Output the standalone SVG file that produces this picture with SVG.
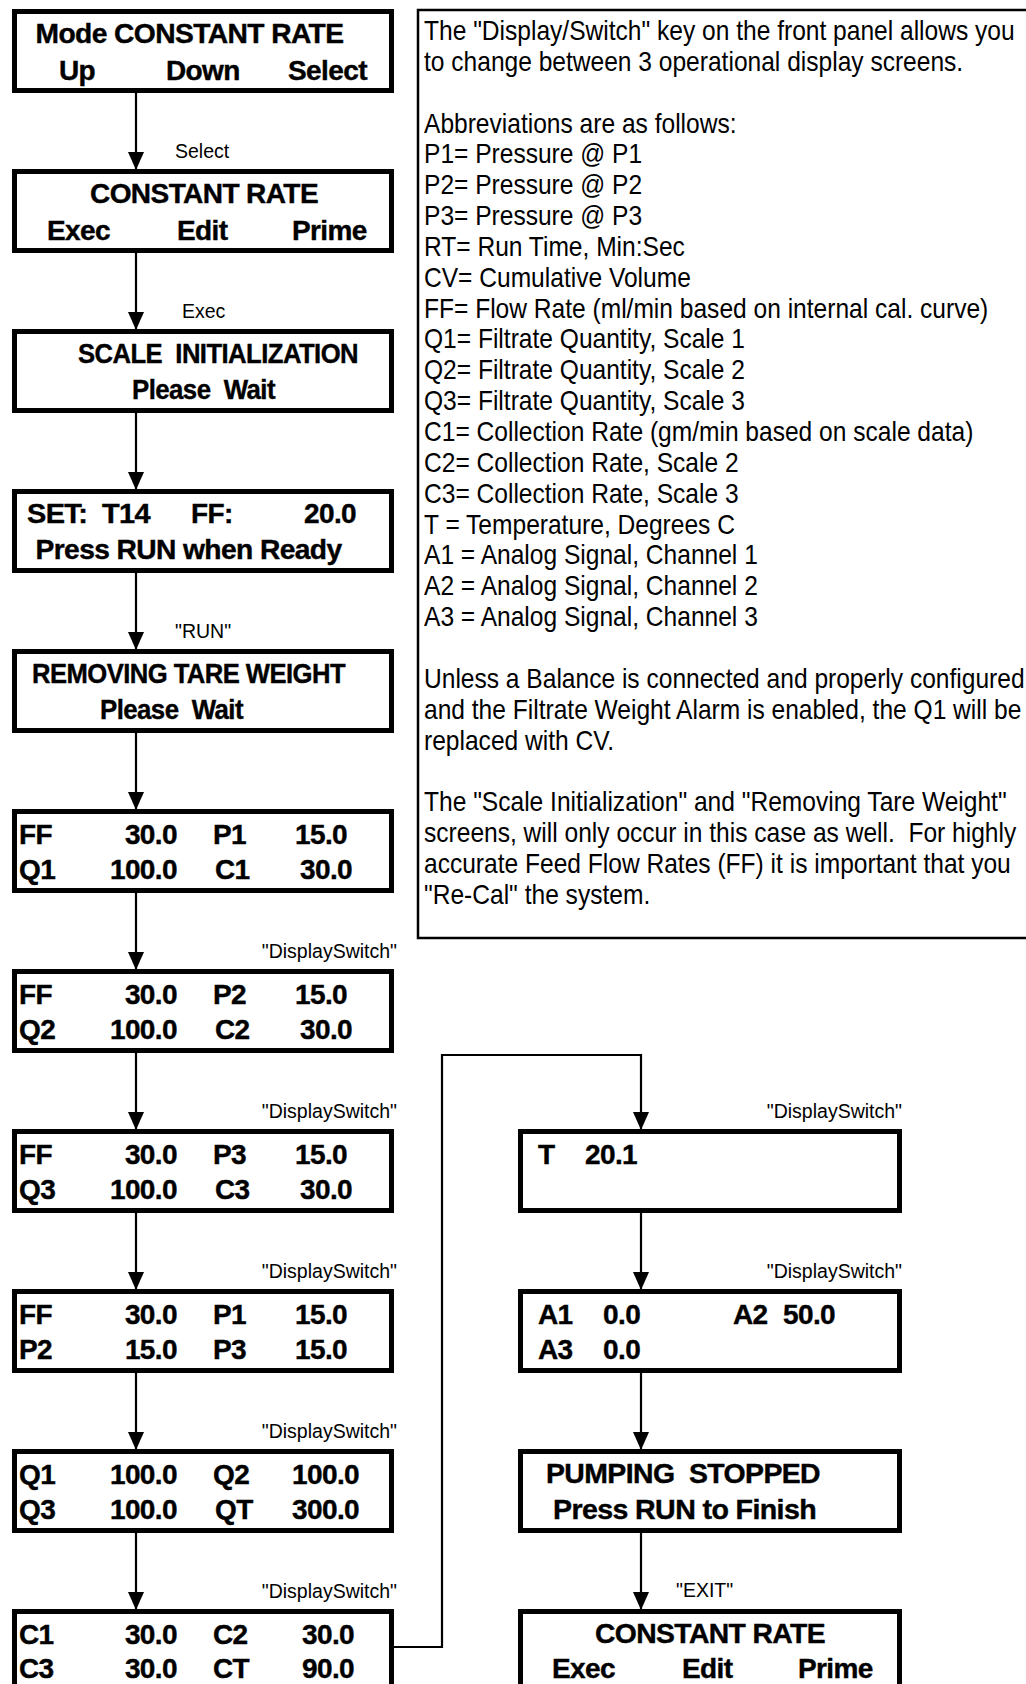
<svg xmlns="http://www.w3.org/2000/svg" width="1026" height="1684" viewBox="0 0 1026 1684" xml:space="preserve">
<defs>
<style>
text{white-space:pre}
.box{fill:#fff;stroke:#000;stroke-width:5}
.n{font-family:"Liberation Sans",Arial,sans-serif;font-weight:bold;font-size:28px;fill:#000;stroke:#000;stroke-width:0.4;letter-spacing:-0.6px}
.e{text-anchor:end}
.lbl{font-family:"Liberation Sans",Arial,sans-serif;font-size:19.5px;fill:#000}
.note{font-family:"Liberation Sans",Arial,sans-serif;font-size:27px;fill:#000}
.conn{fill:none;stroke:#000;stroke-width:2.2}
.panel{fill:none;stroke:#000;stroke-width:2.5}
</style>
<marker id="ah" viewBox="0 0 18 16" refX="18" refY="8" markerWidth="18" markerHeight="16" markerUnits="userSpaceOnUse" orient="auto"><path d="M0,0 L18,8 L0,16 z" fill="#000"/></marker>
</defs>
<rect width="1026" height="1684" fill="#fff"/>

<g id="notes">
<rect class="panel" x="418" y="10" width="640" height="928"/>
<g transform="translate(424 0) scale(0.91 1)">
<text class="note" x="0" y="40">The "Display/Switch" key on the front panel allows you</text>
<text class="note" x="0" y="70.9">to change between 3 operational display screens.</text>
<text class="note" x="0" y="132.6">Abbreviations are as follows:</text>
<text class="note" x="0" y="163.4">P1= Pressure @ P1</text>
<text class="note" x="0" y="194.3">P2= Pressure @ P2</text>
<text class="note" x="0" y="225.1">P3= Pressure @ P3</text>
<text class="note" x="0" y="256">RT= Run Time, Min:Sec</text>
<text class="note" x="0" y="286.8">CV= Cumulative Volume</text>
<text class="note" x="0" y="317.7">FF= Flow Rate (ml/min based on internal cal. curve)</text>
<text class="note" x="0" y="348.5">Q1= Filtrate Quantity, Scale 1</text>
<text class="note" x="0" y="379.4">Q2= Filtrate Quantity, Scale 2</text>
<text class="note" x="0" y="410.2">Q3= Filtrate Quantity, Scale 3</text>
<text class="note" x="0" y="441.1">C1= Collection Rate (gm/min based on scale data)</text>
<text class="note" x="0" y="471.9">C2= Collection Rate, Scale 2</text>
<text class="note" x="0" y="502.8">C3= Collection Rate, Scale 3</text>
<text class="note" x="0" y="533.6">T = Temperature, Degrees C</text>
<text class="note" x="0" y="564.5">A1 = Analog Signal, Channel 1</text>
<text class="note" x="0" y="595.3">A2 = Analog Signal, Channel 2</text>
<text class="note" x="0" y="626.2">A3 = Analog Signal, Channel 3</text>
<text class="note" x="0" y="687.9">Unless a Balance is connected and properly configured</text>
<text class="note" x="0" y="718.7">and the Filtrate Weight Alarm is enabled, the Q1 will be</text>
<text class="note" x="0" y="749.6">replaced with CV.</text>
<text class="note" x="0" y="811.3">The "Scale Initialization" and "Removing Tare Weight"</text>
<text class="note" x="0" y="842.1">screens, will only occur in this case as well.  For highly</text>
<text class="note" x="0" y="873">accurate Feed Flow Rates (FF) it is important that you</text>
<text class="note" x="0" y="903.8">"Re-Cal" the system.</text>
</g>
</g>

<g id="connectors">
<line class="conn" x1="136" y1="93" x2="136" y2="170" marker-end="url(#ah)"/>
<line class="conn" x1="136" y1="253" x2="136" y2="330" marker-end="url(#ah)"/>
<line class="conn" x1="136" y1="413" x2="136" y2="490" marker-end="url(#ah)"/>
<line class="conn" x1="136" y1="573" x2="136" y2="650" marker-end="url(#ah)"/>
<line class="conn" x1="136" y1="733" x2="136" y2="810" marker-end="url(#ah)"/>
<line class="conn" x1="136" y1="893" x2="136" y2="970" marker-end="url(#ah)"/>
<line class="conn" x1="136" y1="1053" x2="136" y2="1130" marker-end="url(#ah)"/>
<line class="conn" x1="136" y1="1213" x2="136" y2="1290" marker-end="url(#ah)"/>
<line class="conn" x1="136" y1="1373" x2="136" y2="1450" marker-end="url(#ah)"/>
<line class="conn" x1="136" y1="1533" x2="136" y2="1610" marker-end="url(#ah)"/>
<polyline class="conn" points="394,1647 442,1647 442,1055 641,1055 641,1130" marker-end="url(#ah)"/>
<line class="conn" x1="641" y1="1213" x2="641" y2="1290" marker-end="url(#ah)"/>
<line class="conn" x1="641" y1="1373" x2="641" y2="1450" marker-end="url(#ah)"/>
<line class="conn" x1="641" y1="1533" x2="641" y2="1610" marker-end="url(#ah)"/>
<text class="lbl" x="175" y="158">Select</text>
<text class="lbl" x="182" y="318">Exec</text>
<text class="lbl" x="175" y="638">"RUN"</text>
<text class="lbl e" x="397" y="958">"DisplaySwitch"</text>
<text class="lbl e" x="397" y="1118">"DisplaySwitch"</text>
<text class="lbl e" x="397" y="1278">"DisplaySwitch"</text>
<text class="lbl e" x="397" y="1438">"DisplaySwitch"</text>
<text class="lbl e" x="397" y="1598">"DisplaySwitch"</text>
<text class="lbl e" x="902" y="1118">"DisplaySwitch"</text>
<text class="lbl e" x="902" y="1278">"DisplaySwitch"</text>
<text class="lbl" x="676" y="1597">"EXIT"</text>
</g>

<g id="mode">
<rect class="box" x="14.5" y="11.5" width="377" height="79"/>
<text class="n" x="35.5" y="43" textLength="308" lengthAdjust="spacingAndGlyphs">Mode CONSTANT RATE</text>
<text class="n" x="59" y="80">Up</text><text class="n" x="166" y="80">Down</text><text class="n" x="288" y="80">Select</text>
</g>
<g id="constant-rate-1">
<rect class="box" x="14.5" y="171.5" width="377" height="79"/>
<text class="n" x="90" y="203" textLength="228" lengthAdjust="spacingAndGlyphs">CONSTANT RATE</text>
<text class="n" x="47" y="240">Exec</text><text class="n" x="177" y="240">Edit</text><text class="n" x="292" y="240">Prime</text>
</g>
<g id="scale-init">
<rect class="box" x="14.5" y="331.5" width="377" height="79"/>
<text class="n" x="78" y="363" textLength="280" lengthAdjust="spacingAndGlyphs">SCALE  INITIALIZATION</text>
<text class="n" x="132" y="399" textLength="143" lengthAdjust="spacingAndGlyphs">Please  Wait</text>
</g>
<g id="set">
<rect class="box" x="14.5" y="491.5" width="377" height="79"/>
<text class="n" x="27" y="523" textLength="123" lengthAdjust="spacingAndGlyphs">SET:  T14</text><text class="n" x="191" y="523">FF:</text><text class="n" x="304" y="523">20.0</text>
<text class="n" x="35.5" y="559" textLength="306" lengthAdjust="spacingAndGlyphs">Press RUN when Ready</text>
</g>
<g id="tare">
<rect class="box" x="14.5" y="651.5" width="377" height="79"/>
<text class="n" x="32" y="683" textLength="313" lengthAdjust="spacingAndGlyphs">REMOVING TARE WEIGHT</text>
<text class="n" x="100" y="719" textLength="143" lengthAdjust="spacingAndGlyphs">Please  Wait</text>
</g>
<g id="screen1">
<rect class="box" x="14.5" y="811.5" width="377" height="79"/>
<text class="n" x="19" y="844">FF</text><text class="n e" x="177" y="844">30.0</text><text class="n" x="213" y="844">P1</text><text class="n" x="295" y="844">15.0</text>
<text class="n" x="19" y="879">Q1</text><text class="n e" x="177" y="879">100.0</text><text class="n" x="215" y="879">C1</text><text class="n" x="300" y="879">30.0</text>
</g>
<g id="screen2">
<rect class="box" x="14.5" y="971.5" width="377" height="79"/>
<text class="n" x="19" y="1004">FF</text><text class="n e" x="177" y="1004">30.0</text><text class="n" x="213" y="1004">P2</text><text class="n" x="295" y="1004">15.0</text>
<text class="n" x="19" y="1039">Q2</text><text class="n e" x="177" y="1039">100.0</text><text class="n" x="215" y="1039">C2</text><text class="n" x="300" y="1039">30.0</text>
</g>
<g id="screen3">
<rect class="box" x="14.5" y="1131.5" width="377" height="79"/>
<text class="n" x="19" y="1164">FF</text><text class="n e" x="177" y="1164">30.0</text><text class="n" x="213" y="1164">P3</text><text class="n" x="295" y="1164">15.0</text>
<text class="n" x="19" y="1199">Q3</text><text class="n e" x="177" y="1199">100.0</text><text class="n" x="215" y="1199">C3</text><text class="n" x="300" y="1199">30.0</text>
</g>
<g id="screen4">
<rect class="box" x="14.5" y="1291.5" width="377" height="79"/>
<text class="n" x="19" y="1324">FF</text><text class="n e" x="177" y="1324">30.0</text><text class="n" x="213" y="1324">P1</text><text class="n" x="295" y="1324">15.0</text>
<text class="n" x="19" y="1359">P2</text><text class="n e" x="177" y="1359">15.0</text><text class="n" x="213" y="1359">P3</text><text class="n" x="295" y="1359">15.0</text>
</g>
<g id="screen5">
<rect class="box" x="14.5" y="1451.5" width="377" height="79"/>
<text class="n" x="19" y="1484">Q1</text><text class="n e" x="177" y="1484">100.0</text><text class="n" x="213" y="1484">Q2</text><text class="n" x="292" y="1484">100.0</text>
<text class="n" x="19" y="1519">Q3</text><text class="n e" x="177" y="1519">100.0</text><text class="n" x="215" y="1519">QT</text><text class="n" x="292" y="1519">300.0</text>
</g>
<g id="screen6">
<rect class="box" x="14.5" y="1611.5" width="377" height="79"/>
<text class="n" x="19" y="1644">C1</text><text class="n e" x="177" y="1644">30.0</text><text class="n" x="213" y="1644">C2</text><text class="n" x="302" y="1644">30.0</text>
<text class="n" x="19" y="1678">C3</text><text class="n e" x="177" y="1678">30.0</text><text class="n" x="213" y="1678">CT</text><text class="n" x="302" y="1678">90.0</text>
</g>
<g id="temperature">
<rect class="box" x="520.5" y="1131.5" width="379" height="79"/>
<text class="n" x="538" y="1164">T</text><text class="n" x="585" y="1164">20.1</text>
</g>
<g id="analog">
<rect class="box" x="520.5" y="1291.5" width="379" height="79"/>
<text class="n" x="538" y="1324">A1</text><text class="n" x="603" y="1324">0.0</text><text class="n" x="733" y="1324">A2</text><text class="n" x="783" y="1324">50.0</text>
<text class="n" x="538" y="1359">A3</text><text class="n" x="603" y="1359">0.0</text>
</g>
<g id="pumping-stopped">
<rect class="box" x="520.5" y="1451.5" width="379" height="79"/>
<text class="n" x="546" y="1483" textLength="274" lengthAdjust="spacingAndGlyphs">PUMPING  STOPPED</text>
<text class="n" x="553" y="1519" textLength="263" lengthAdjust="spacingAndGlyphs">Press RUN to Finish</text>
</g>
<g id="constant-rate-2">
<rect class="box" x="520.5" y="1611.5" width="379" height="79"/>
<text class="n" x="595" y="1643" textLength="230" lengthAdjust="spacingAndGlyphs">CONSTANT RATE</text>
<text class="n" x="552" y="1678">Exec</text><text class="n" x="682" y="1678">Edit</text><text class="n" x="798" y="1678">Prime</text>
</g>
</svg>
